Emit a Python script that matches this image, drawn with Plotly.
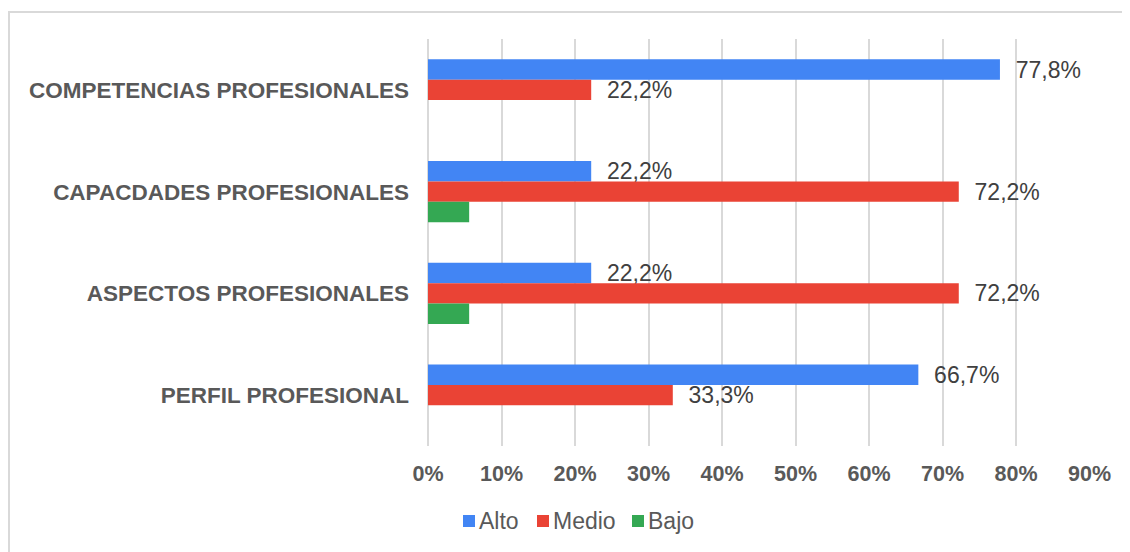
import plotly.graph_objects as go

categories = ["COMPETENCIAS PROFESIONALES", "CAPACDADES PROFESIONALES",
              "ASPECTOS PROFESIONALES", "PERFIL PROFESIONAL"]
series_names = ["Alto", "Medio", "Bajo"]
alto = [0.778, 0.222, 0.222, 0.667]
medio = [0.222, 0.722, 0.722, 0.333]
bajo = [0.0, 0.056, 0.056, 0.0]
x_ticks = [0, 0.1, 0.2, 0.3, 0.4, 0.5, 0.6, 0.7, 0.8, 0.9]

colors = ["#4285F4", "#EA4335", "#34A853"]
show_labels = [True, True, False]
FONT = "Liberation Sans, Arial, sans-serif"

# page has an 8px body margin, so figure pixel (0,0) sits at page (8,8)
OFF = 8
FW, FH = 1130 - OFF, 552 - OFF

fig = go.Figure()
for name, vals, col, lab in zip(series_names, [alto, medio, bajo], colors, show_labels):
    fig.add_trace(go.Bar(
        y=categories, x=vals, name=name, orientation="h",
        marker=dict(color=col, line=dict(width=0)),
        texttemplate="\u00a0\u00a0%{x:.1%}" if lab else "",
        textposition="outside", constraintext="none", cliponaxis=False,
        textfont=dict(family=FONT, size=23, color="#404040"),
        hoverinfo="skip", showlegend=False,
    ))

# plot-area geometry (figure pixels)
L, R, T, B = 428 - OFF, 1090 - OFF, 39 - OFF, 446 - OFF
W, H = R - L, B - T
def px(x): return (x - OFF - L) / W     # x given in page pixels
def py(y): return (B - (y - OFF)) / H   # y given in page pixels

shapes = [dict(type="rect", xref="paper", yref="paper",
               x0=px(9), x1=px(1170), y0=py(12), y1=py(620),
               line=dict(color="#d9d9d9", width=2), fillcolor="rgba(0,0,0,0)", layer="below")]
annotations = []
leg_x = [463, 537, 632]
leg_y = 521
for name, col, x0 in zip(series_names, colors, leg_x):
    shapes.append(dict(type="rect", xref="paper", yref="paper",
                       x0=px(x0), x1=px(x0 + 12), y0=py(leg_y + 6), y1=py(leg_y - 6),
                       line=dict(width=0), fillcolor=col))
    annotations.append(dict(xref="paper", yref="paper", x=px(x0 + 14), y=py(leg_y),
                            xanchor="left", yanchor="middle", showarrow=False, text=name,
                            font=dict(family=FONT, size=23, color="#595959")))

fig.update_layout(
    width=FW, height=FH,
    margin=dict(l=L, r=FW - R, t=T, b=FH - B),
    paper_bgcolor="white", plot_bgcolor="white",
    barmode="group", bargap=0.4, bargroupgap=0,
    separators=",.",
    showlegend=False,
    shapes=shapes, annotations=annotations,
    font=dict(family=FONT),
    xaxis=dict(range=[0, 0.9005], tickvals=x_ticks, tickformat=".0%",
               showgrid=True, gridcolor="#d9d9d9", gridwidth=1.5,
               zeroline=True, zerolinecolor="#d9d9d9", zerolinewidth=1.5,
               showline=False, ticks="", ticklabelstandoff=12,
               tickfont=dict(family=FONT, size=21.5, color="#595959", weight="bold")),
    yaxis=dict(autorange="reversed", showgrid=False, zeroline=False, showline=False,
               ticks="", ticklabelstandoff=18,
               tickfont=dict(family=FONT, size=22.5, color="#595959", weight="bold")),
)

fig.write_html("out.html")
